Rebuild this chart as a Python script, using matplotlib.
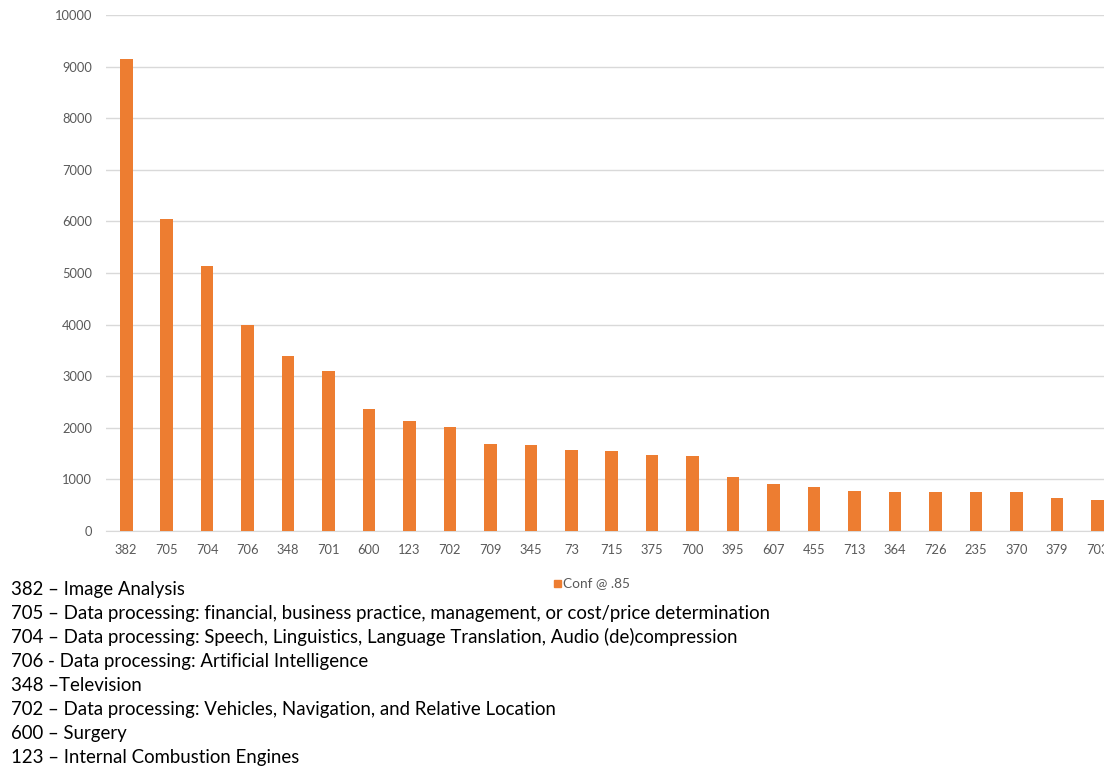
import matplotlib
matplotlib.use("Agg")
import matplotlib.pyplot as plt
from matplotlib.patches import Rectangle

plt.rcParams['font.family'] = ['Lato', 'DejaVu Sans']

# Patent classes and their counts at confidence 0.85
classes = ["382", "705", "704", "706", "348", "701", "600", "123", "702", "709",
           "345", "73", "715", "375", "700", "395", "607", "455", "713", "364",
           "726", "235", "370", "379", "703"]
counts = [9155, 6055, 5145, 4000, 3400, 3098, 2366, 2135, 2018, 1690,
          1670, 1573, 1543, 1465, 1452, 1050, 915, 848, 783, 752,
          752, 752, 752, 635, 600]
series_name = "Conf @ .85"
y_ticks = [0, 1000, 2000, 3000, 4000, 5000, 6000, 7000, 8000, 9000, 10000]

descriptions = [
    "382 \u2013 Image Analysis",
    "705 \u2013 Data processing: financial, business practice, management, or cost/price determination",
    "704 \u2013 Data processing: Speech, Linguistics, Language Translation, Audio (de)compression",
    "706 - Data processing: Artificial Intelligence",
    "348 \u2013Television",
    "702 \u2013 Data processing: Vehicles, Navigation, and Relative Location",
    "600 \u2013 Surgery",
    "123 \u2013 Internal Combustion Engines",
]

W, H = 1104, 770
fig = plt.figure(figsize=(W / 100, H / 100), dpi=100)

bar_color = "#ED7D31"
grid_color = "#D9D9D9"
tick_color = "#595959"

# plot area: left edge at 106 px, one category every ~40.46 px, running off the right edge
left_px, bottom_px, top_px = 106, 531, 15
ax = fig.add_axes([left_px / W, 1 - bottom_px / H, 1 - left_px / W, (bottom_px - top_px) / H])
x = range(len(classes))
ax.bar(x, counts, width=0.31, color=bar_color, zorder=3)
step_px = 40.46
ax.set_xlim(-0.5, (W - left_px) / step_px - 0.5)
ax.set_ylim(0, 10000)
ax.set_yticks(y_ticks)
ax.set_xticks(list(x))
ax.set_xticklabels(classes)
ax.yaxis.grid(True, color=grid_color, linewidth=1, zorder=0)
for s in ["top", "right", "left"]:
    ax.spines[s].set_visible(False)
ax.spines["bottom"].set_color(grid_color)
ax.tick_params(axis="both", length=0, labelsize=9.3, labelcolor=tick_color)
ax.tick_params(axis="x", pad=9)
ax.tick_params(axis="y", pad=10)

# legend entry below the axis
fig.patches.append(Rectangle((554 / W, 1 - 587 / H), 7 / W, 7 / H,
                             transform=fig.transFigure, color=bar_color))
fig.text(563 / W, 1 - 583 / H, series_name, fontsize=9.8, color=tick_color, va="center")

# class descriptions
y0 = 589
for i, line in enumerate(descriptions):
    fig.text(11 / W, 1 - (y0 + i * 24.1) / H, line, fontsize=13.4, color="black", va="center")

fig.savefig("out.png", dpi=100)
